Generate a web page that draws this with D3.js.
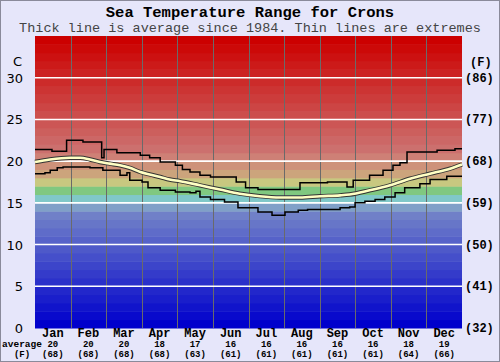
<!DOCTYPE html>
<html>
<head>
<meta charset="utf-8">
<script src="https://cdn.jsdelivr.net/npm/d3@7"></script>
<style>
  body { margin: 0; background: #e6e6fa; }
  svg { display: block; }
</style>
</head>
<body>
<div id="chart"></div>
<script>
const months = ['Jan', 'Feb', 'Mar', 'Apr', 'May', 'Jun', 'Jul', 'Aug', 'Sep', 'Oct', 'Nov', 'Dec']
const monthAvgC = ['20', '20', '20', '18', '17', '16', '16', '16', '16', '16', '18', '19']
const monthAvgF = ['(68)', '(68)', '(68)', '(68)', '(63)', '(61)', '(61)', '(61)', '(61)', '(61)', '(64)', '(66)']
const celsiusTicks = [0, 5, 10, 15, 20, 25, 30]
const fahrenheitTicks = ['(32)', '(41)', '(50)', '(59)', '(68)', '(77)', '(86)']

// [day of year, degrees C] - extremes are step lines
const maxSteps = [
  [0, 21.4], [14.5, 21.2], [27, 22.5], [41, 22.3], [57, 20.4], [59, 21.4], [70, 21.0],
  [90, 20.7], [98, 20.4], [107, 19.9], [120, 19.5], [126, 19.0], [132.5, 18.7],
  [141, 18.3], [150, 18.1], [172, 17.5], [180, 16.8], [190.6, 16.6], [226.5, 17.4],
  [250, 17.5], [266.7, 16.9], [272, 17.7], [286, 18.3], [297.5, 18.9], [306, 19.5],
  [312, 19.8], [318, 21.1], [343.7, 21.3], [359, 21.5], [365, 21.5]
]
const minSteps = [
  [0, 18.5], [8.5, 18.6], [13, 18.9], [19, 19.2], [24, 19.3], [47, 19.2], [58, 18.9],
  [72.7, 18.3], [78.6, 18.6], [81, 17.7], [91.5, 17.5], [96.6, 16.8], [107, 16.5],
  [120, 16.3], [132.5, 16.2], [137.6, 16.4], [141, 15.7], [150, 15.4], [162, 15.1],
  [173.5, 14.4], [190.6, 13.9], [202.6, 13.5], [213.7, 13.9], [225, 14.1], [233, 14.2],
  [260.8, 14.4], [269, 14.5], [273.6, 15.0], [282, 15.2], [290.7, 15.4], [299, 15.7],
  [307.8, 16.2], [316, 16.8], [329, 17.3], [337.7, 17.8], [352, 18.2], [365, 18.2]
]
const avgPoints = [
  [0, 19.9], [12.8, 20.2], [30, 20.4], [38.5, 20.4], [47, 20.2], [55.6, 19.9], [64, 19.7],
  [72.7, 19.5], [81, 19.2], [90, 18.7], [98, 18.4], [107, 18.1], [115, 17.8], [124, 17.6],
  [141, 17.1], [158, 16.6], [175, 16.1], [192, 15.8], [209.5, 15.65], [226.5, 15.65],
  [243.7, 15.8], [260.8, 15.9], [269, 16.0], [286, 16.5], [303.5, 17.1], [320.6, 17.9],
  [337.7, 18.5], [354.8, 19.1], [365, 19.6]
]

const width = 500, height = 362
const margin = { top: 36, right: 38, bottom: 34, left: 35 }
const plotW = width - margin.left - margin.right
const plotH = height - margin.top - margin.bottom

const svg = d3.select('#chart').append('svg')
  .attr('width', width)
  .attr('height', height)

svg.append('rect')
  .attr('x', 0.5).attr('y', 0.5)
  .attr('width', width - 1).attr('height', height - 1)
  .attr('fill', '#e6e6fa')
  .attr('stroke', '#8a8a9a')

const x = d3.scaleLinear().domain([0, 365]).range([margin.left, margin.left + plotW])
const xMonth = d3.scaleLinear().domain([0, 12]).range([margin.left, margin.left + plotW])
const y = d3.scaleLinear().domain([0, 35]).range([margin.top + plotH, margin.top])

// one colour band per degree
const blue = d3.interpolateRgb('rgb(0,0,204)', 'rgb(112,128,200)')
const red = d3.interpolateRgb('rgb(204,112,110)', 'rgb(204,0,0)')
const special = {
  14: 'rgb(128,160,200)', 15: 'rgb(128,200,200)', 16: 'rgb(128,200,128)',
  17: 'rgb(200,200,128)', 18: 'rgb(204,164,124)', 19: 'rgb(206,146,122)', 20: 'rgb(206,128,118)'
}
function bandColor(t) {
  if (special[t]) return special[t]
  if (t < 14) return blue(t / 13)
  return red((t - 21) / 13)
}

svg.append('g').selectAll('rect')
  .data(d3.range(0, 35))
  .join('rect')
  .attr('x', margin.left)
  .attr('width', plotW)
  .attr('y', d => y(d + 1))
  .attr('height', d => y(d) - y(d + 1) + 0.5)
  .attr('fill', d => bandColor(d))

// month dividers
svg.append('g').selectAll('line')
  .data(d3.range(1, 12))
  .join('line')
  .attr('x1', d => Math.round(xMonth(d)) + 0.5)
  .attr('x2', d => Math.round(xMonth(d)) + 0.5)
  .attr('y1', margin.top)
  .attr('y2', margin.top + plotH)
  .attr('stroke', '#6a6a6a')
  .attr('stroke-width', 1)

// white grid every 5 C
svg.append('g').selectAll('line')
  .data(celsiusTicks.filter(d => d > 0))
  .join('line')
  .attr('x1', margin.left)
  .attr('x2', margin.left + plotW)
  .attr('y1', d => y(d))
  .attr('y2', d => y(d))
  .attr('stroke', '#ffffff')
  .attr('stroke-width', 1.6)

const stepLine = d3.line()
  .x(d => x(d[0]))
  .y(d => y(d[1]))
  .curve(d3.curveStepAfter)

const smoothLine = d3.line()
  .x(d => x(d[0]))
  .y(d => y(d[1]))
  .curve(d3.curveMonotoneX)

;[maxSteps, minSteps].forEach(series => {
  svg.append('path')
    .attr('d', stepLine(series))
    .attr('fill', 'none')
    .attr('stroke', '#000')
    .attr('stroke-width', 1.5)
})

svg.append('path')
  .attr('d', smoothLine(avgPoints))
  .attr('fill', 'none')
  .attr('stroke', '#333')
  .attr('stroke-width', 4.4)

svg.append('path')
  .attr('d', smoothLine(avgPoints))
  .attr('fill', 'none')
  .attr('stroke', '#ffffc4')
  .attr('stroke-width', 2.6)

// titles
svg.append('text')
  .attr('x', width / 2).attr('y', 16.5)
  .attr('text-anchor', 'middle')
  .style('font', 'bold 15.5px "Liberation Mono", monospace')
  .text('Sea Temperature Range for Crons')

svg.append('text')
  .attr('x', width / 2).attr('y', 32)
  .attr('text-anchor', 'middle')
  .attr('fill', '#444444')
  .style('font', '13.5px "Liberation Mono", monospace')
  .text('Thick line is average since 1984. Thin lines are extremes')

// left axis
const left = svg.append('g')
  .style('font', '13px "DejaVu Sans", sans-serif')
  .attr('fill', '#000')
left.selectAll('text.tick')
  .data(celsiusTicks)
  .join('text')
  .attr('class', 'tick')
  .attr('x', 23)
  .attr('y', d => y(d) + 5)
  .attr('text-anchor', 'end')
  .text(d => d)
left.append('text')
  .attr('x', 22).attr('y', 66)
  .attr('text-anchor', 'end')
  .text('C')

// right axis
const right = svg.append('g')
  .style('font', 'bold 12px "Liberation Mono", monospace')
right.selectAll('text.tick')
  .data(fahrenheitTicks)
  .join('text')
  .attr('class', 'tick')
  .attr('x', 465)
  .attr('y', (d, i) => y(celsiusTicks[i]) + 4)
  .text(d => d)
right.append('text')
  .attr('x', 470).attr('y', 66)
  .text('(F)')

// month labels and averages
const smallFont = 'bold 9px "Liberation Mono", monospace'
const bottom = svg.append('g')
  .attr('text-anchor', 'middle')
bottom.selectAll('text.month')
  .data(months)
  .join('text')
  .attr('class', 'month')
  .attr('x', (d, i) => xMonth(i + 0.5))
  .attr('y', 337)
  .style('font', 'bold 12px "Liberation Mono", monospace')
  .text(d => d)
bottom.selectAll('text.avgc')
  .data(monthAvgC)
  .join('text')
  .attr('class', 'avgc')
  .attr('x', (d, i) => xMonth(i + 0.5))
  .attr('y', 347)
  .style('font', smallFont)
  .text(d => d)
bottom.selectAll('text.avgf')
  .data(monthAvgF)
  .join('text')
  .attr('class', 'avgf')
  .attr('x', (d, i) => xMonth(i + 0.5))
  .attr('y', 356.5)
  .style('font', smallFont)
  .text(d => d)
bottom.append('text')
  .attr('x', 22).attr('y', 347)
  .style('font', 'bold 9.5px "Liberation Mono", monospace')
  .text('average')
bottom.append('text')
  .attr('x', 22).attr('y', 356.5)
  .style('font', smallFont)
  .text('(F)')
</script>
</body>
</html>
